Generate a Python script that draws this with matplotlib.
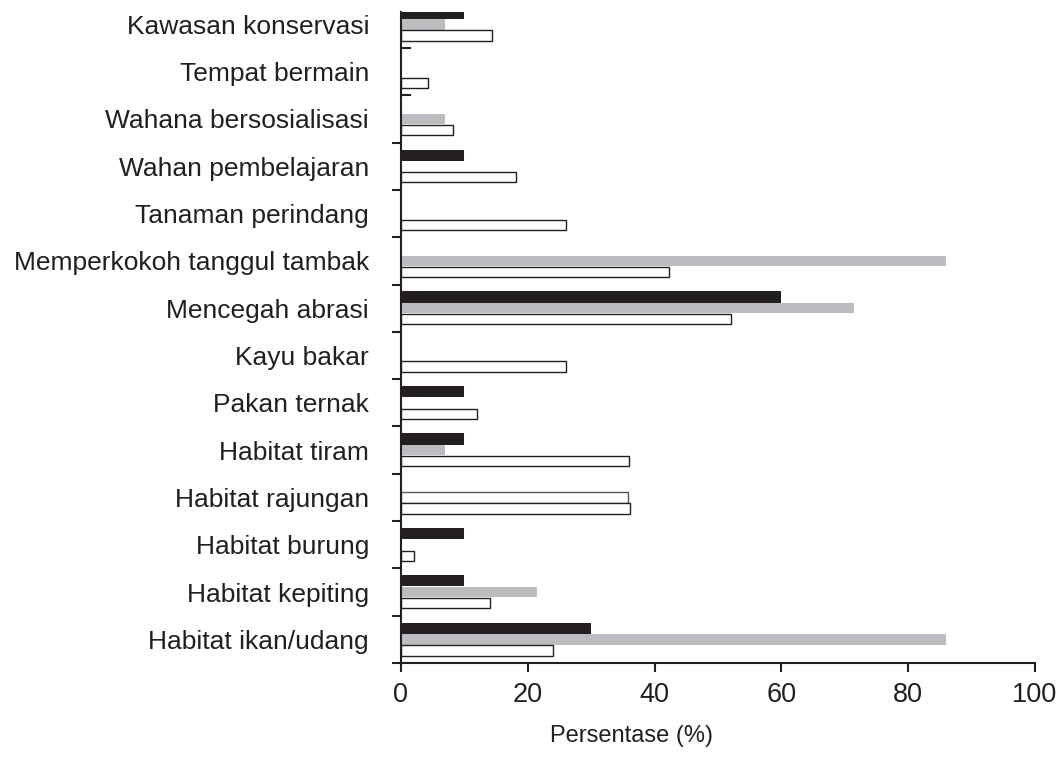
import matplotlib
matplotlib.use("Agg")
import matplotlib.pyplot as plt
from matplotlib.lines import Line2D
import numpy as np

plt.rcParams['font.family'] = ['Liberation Sans', 'DejaVu Sans']

# Mangrove function categories (listed top to bottom)
categories = [
    "Kawasan konservasi",
    "Tempat bermain",
    "Wahana bersosialisasi",
    "Wahan pembelajaran",
    "Tanaman perindang",
    "Memperkokoh tanggul tambak",
    "Mencegah abrasi",
    "Kayu bakar",
    "Pakan ternak",
    "Habitat tiram",
    "Habitat rajungan",
    "Habitat burung",
    "Habitat kepiting",
    "Habitat ikan/udang",
]

# Percentages for the three respondent groups
series_black = [10, 0, 0, 10, 0, 0, 60, 0, 10, 10, 0, 10, 10, 30]
series_gray = [7, 0, 7, 0, 0, 86, 71.5, 0, 0, 7, 35.8, 0, 21.5, 86]
series_white = [14.3, 4.2, 8.2, 18.2, 26, 42.2, 52, 26, 12, 36, 36.1, 2, 14, 24]

x_ticks = [0, 20, 40, 60, 80, 100]

n = len(categories)
y = np.arange(n)[::-1]  # first category at the top
h = 0.235

fig = plt.figure(figsize=(10.56, 7.62), dpi=100)
ax = fig.add_axes([401 / 1056, 1 - 663 / 762, 634 / 1056, 651 / 762])

black = "#231f20"
gray = "#bcbdc0"

ax.barh(y + h, series_black, height=h, color=black, linewidth=0)

gray_face = [("white" if c == "Habitat rajungan" else gray) for c in categories]
gray_edge = [("#555555" if c == "Habitat rajungan" else gray) for c in categories]
gray_lw = [(1.0 if c == "Habitat rajungan" else 0.0) for c in categories]
ax.barh(y, series_gray, height=h * 0.95, color=gray_face,
        edgecolor=gray_edge, linewidth=gray_lw)

ax.barh(y - h, series_white, height=h * 0.92, color="white",
        edgecolor=black, linewidth=1.0)

ax.set_xlim(0, 100)
ax.set_ylim(-0.5, 13.26)

# Category labels at group centres
ax.set_yticks(y)
ax.set_yticklabels(categories, fontsize=19, color="#231f20")
ax.tick_params(axis="y", which="major", length=0, pad=23)

# Group separators as outward minor ticks
bounds = np.arange(-0.5, 11.0, 1.0)
ax.set_yticks(bounds, minor=True)
ax.tick_params(axis="y", which="minor", length=6.5, width=1.5,
               direction="out", color=black)
for b in (11.5, 12.5):
    ax.add_line(Line2D([0, 9 / 634], [b, b], transform=ax.get_yaxis_transform(),
                       color=black, linewidth=1.5, clip_on=False))

ax.set_xticks(x_ticks)
ax.set_xticklabels([str(t) for t in x_ticks], fontsize=19.5, color="#231f20")
ax.tick_params(axis="x", length=6.5, width=1.5, direction="out",
               color=black, pad=7)
ax.set_xlabel("Persentase (%)", fontsize=17, color="#231f20", labelpad=12)
ax.xaxis.set_label_coords((632 - 401) / 634, -0.095)

for side in ("top", "right"):
    ax.spines[side].set_visible(False)
for side in ("left", "bottom"):
    ax.spines[side].set_linewidth(1.5)
    ax.spines[side].set_color(black)

fig.savefig("out.png", dpi=100)
